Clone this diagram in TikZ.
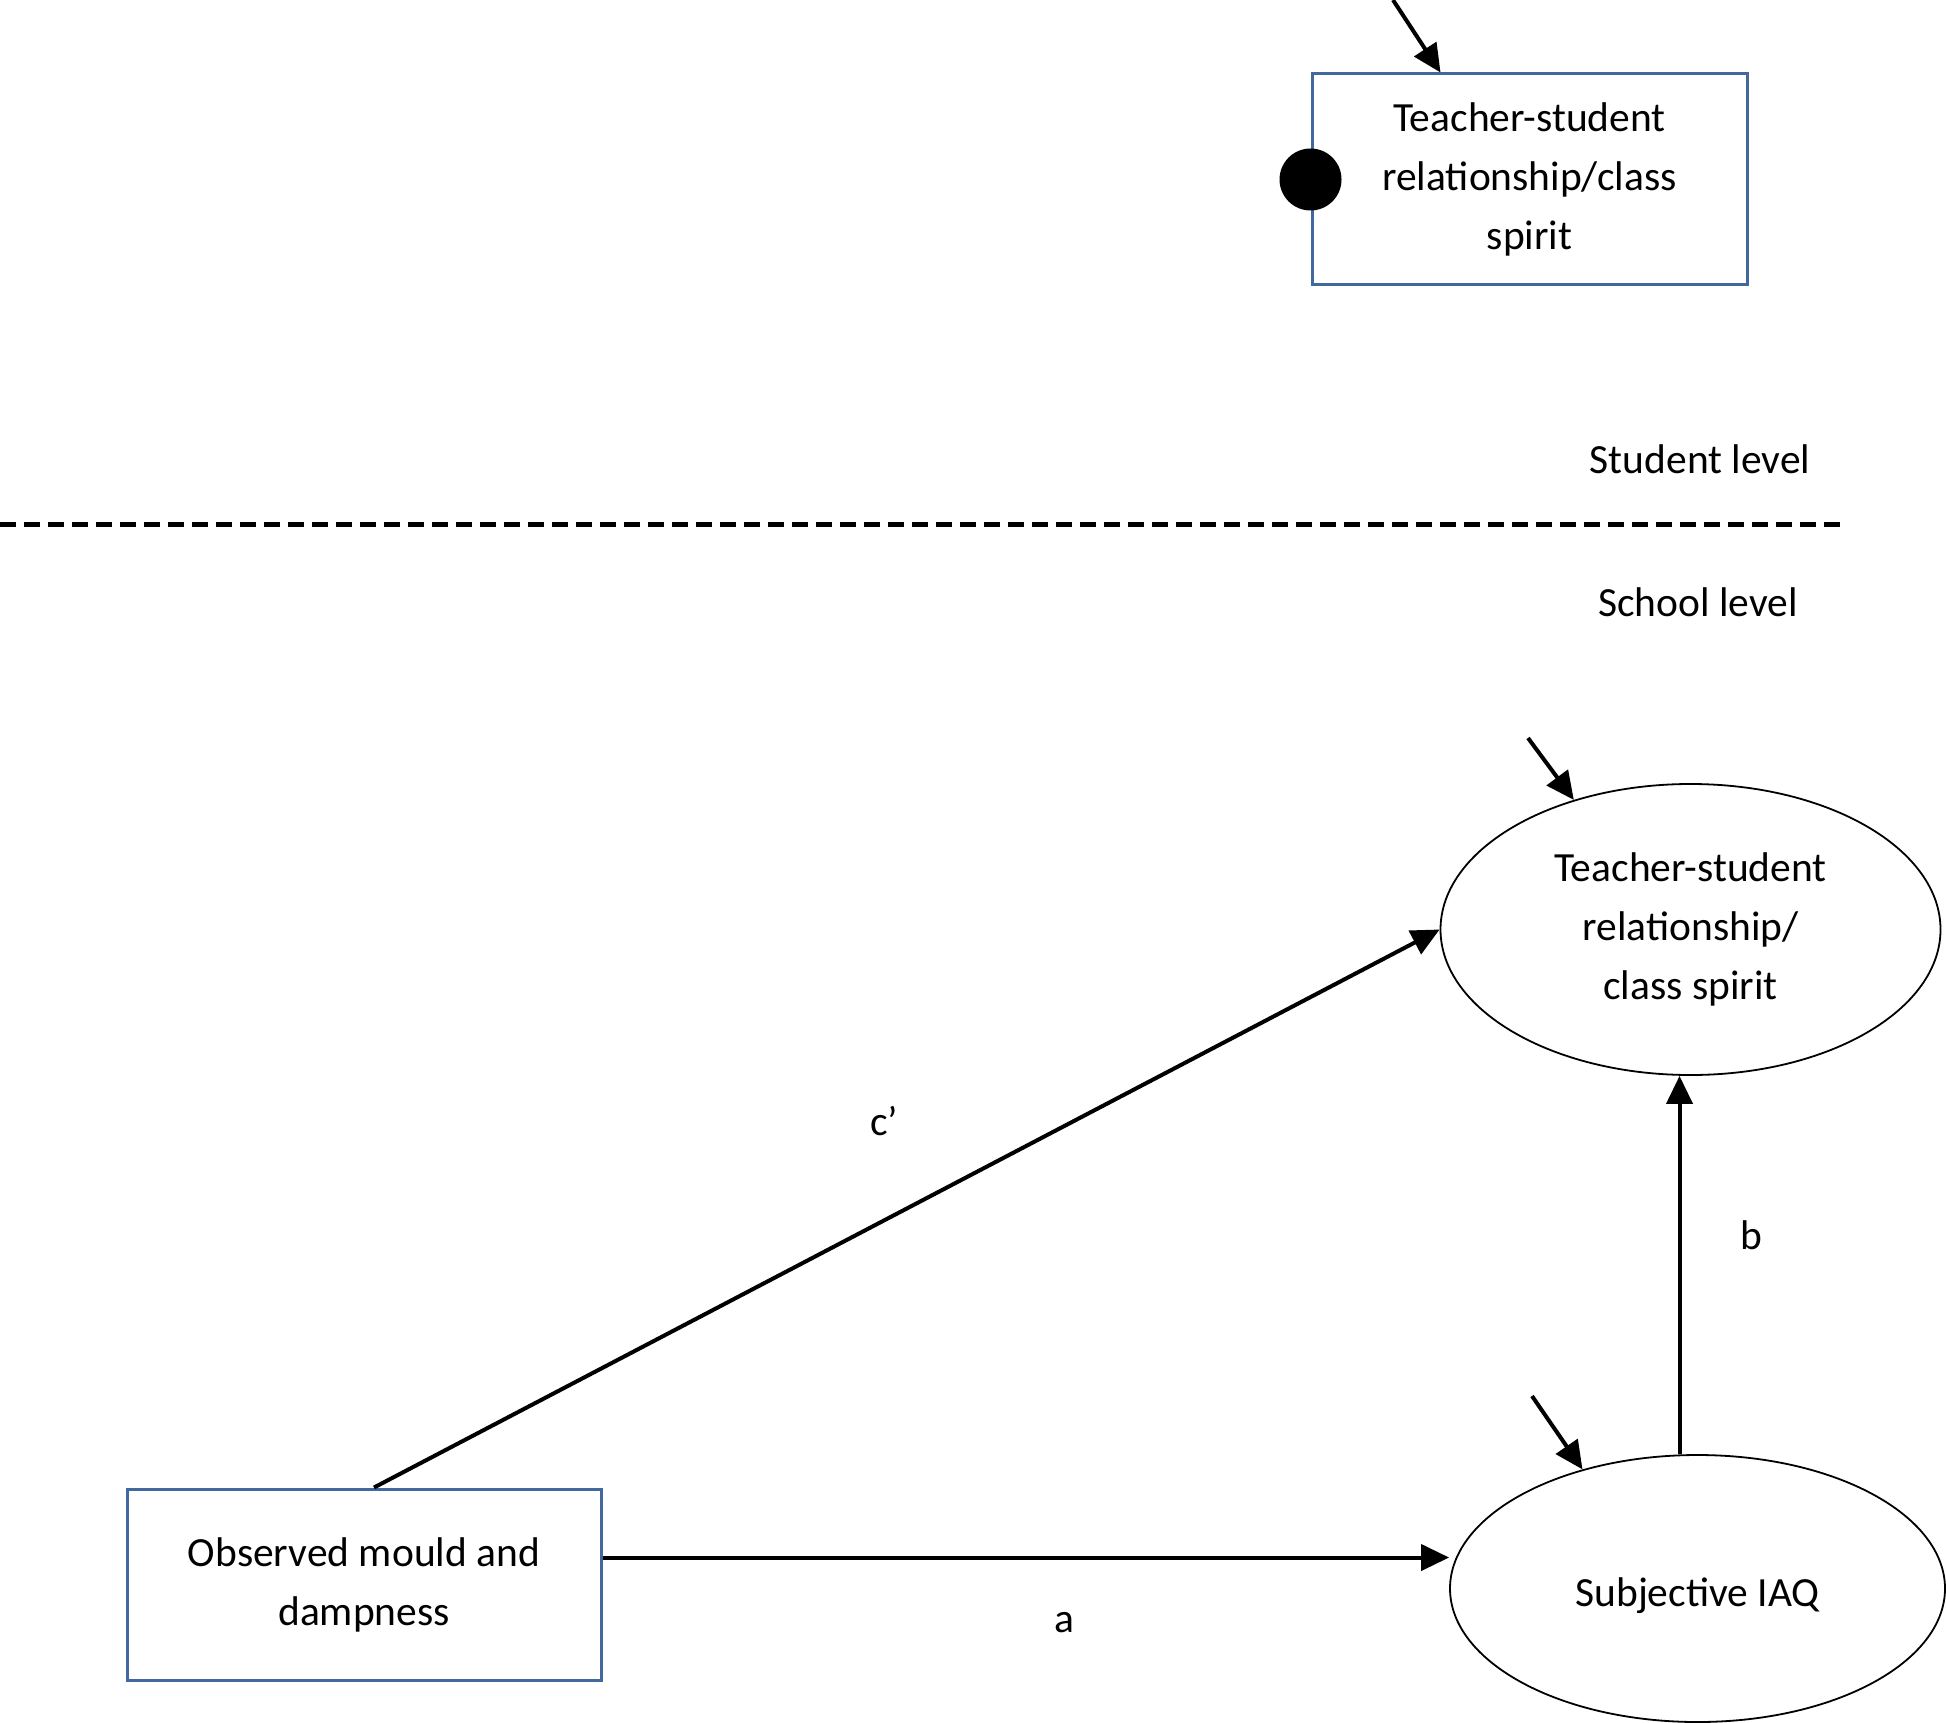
\documentclass[tikz,border=0pt]{standalone}
\usepackage{fontspec}
\setmainfont{Carlito}
\usetikzlibrary{arrows.meta,shapes.geometric,calc}
\definecolor{boxblue}{RGB}{65,105,158}
\tikzset{
  every node/.style={font=\fontsize{20.75pt}{29.5pt}\selectfont},
  obsbox/.style={draw=boxblue,line width=1.5pt,rectangle,inner sep=0pt,align=center},
  latent/.style={draw=black,line width=0.9pt,ellipse,inner sep=0pt,align=center},
  arr/.style={line width=2pt,-{Triangle[length=14pt,width=13pt]}},
  lbl/.style={inner sep=0pt}
}
\begin{document}
\begin{tikzpicture}[x=0.5pt,y=-0.5pt]
\useasboundingbox (0,0) rectangle (1946,1722);
% top (student level) box
\node[obsbox,minimum width=217.5pt,minimum height=105.5pt] (tsbox) at (1529.5,179.5) {Teacher-student\\relationship/class\\spirit};
\node[circle,fill=black,draw=none,minimum size=31pt,inner sep=0pt] (dot) at (tsbox.west) {};
\coordinate (e0) at (1393,0);
\draw[arr] (e0) -- ([xshift=-44.5pt]tsbox.north);
% level labels and dashed line
\node[lbl] (stud) at (1700,459) {Student level};
\node[lbl] (school) at (1698,602) {School level};
\coordinate (dl) at (0,524);
\coordinate (dr) at (1845,524);
\draw[line width=2.5pt,dash pattern=on 8pt off 4pt] (dl) -- (dr);
% school level
\node[latent,minimum width=250pt,minimum height=145.5pt] (tsr) at (1690.5,929.5) {Teacher-student\\relationship/\\class spirit};
\node[latent,minimum width=247.5pt,minimum height=133.5pt] (iaq) at (1697.5,1588.5) {\raisebox{-3.5pt}[\height][\depth]{Subjective IAQ}};
\node[obsbox,minimum width=237pt,minimum height=95.5pt] (obs) at (364,1584.5) {Observed mould and\\dampness};
\coordinate (e1) at (1528,738);
\coordinate (e2) at (1532,1396);
\draw[arr] (e1) -- (tsr.132);
\draw[arr] (e2) -- (iaq.134);
% paths
\draw[arr] ([yshift=13.5pt]obs.east) -- ([yshift=13.5pt]obs.east -| iaq.west);
\draw[arr] ([xshift=-9pt]iaq.north) -- ([xshift=-9pt]iaq.north |- tsr.south);
\draw[arr] ([xshift=5pt]obs.north) -- (tsr.west);
\node[lbl] (la) at (1064,1623) {a};
\node[lbl] (lb) at (1751,1235) {b};
\node[lbl] (lc) at (884,1121) {c’};
\end{tikzpicture}
\end{document}
